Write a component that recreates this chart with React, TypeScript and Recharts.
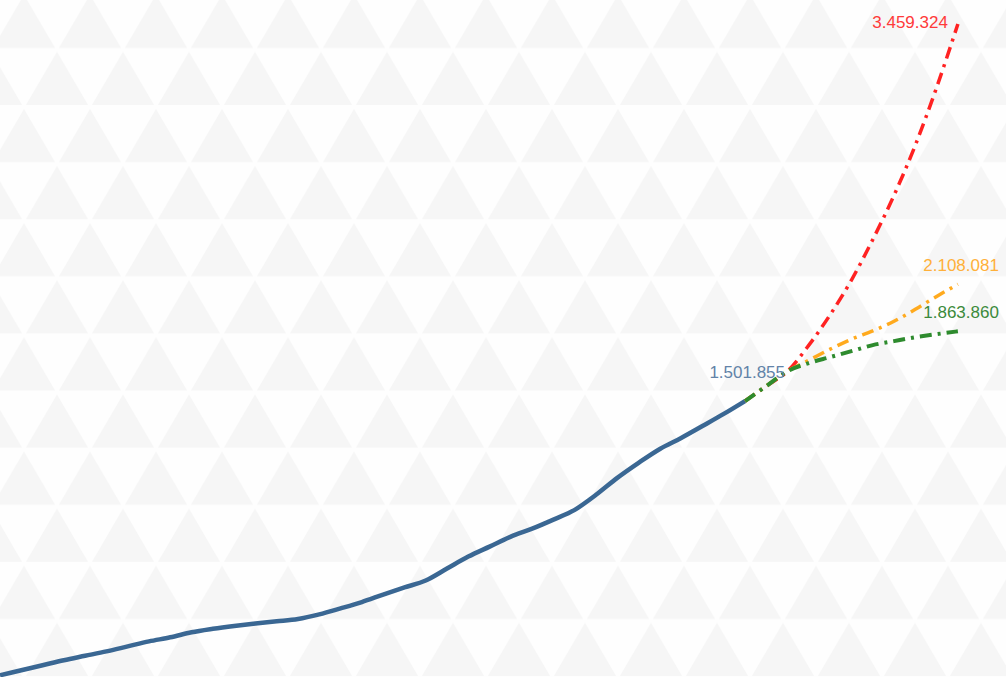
import React from 'react';
import { LineChart, Line, XAxis, YAxis } from 'recharts';

const blueYears = [1985,1986,1987,1988,1989,1990,1991,1992,1993,1994,1995,1996,1997,1998,1999,2000,2001,2002,2003,2004,2005,2006,2007,2008,2009,2010,2011,2012,2013,2014,2015,2016,2017,2018,2019,2020];
const blueValues = [78000,104000,130000,156000,179000,202000,228000,254000,275000,301000,319000,334000,347000,358000,370000,394000,425000,458000,497000,534000,570000,632000,694000,746000,798000,839000,886000,937000,1015000,1103000,1181000,1253000,1310000,1372000,1435000,1501855];

const projYears = [2020,2021,2022,2023,2024,2025,2026,2027,2028,2029,2030];
const redValues = [1501855,1579500,1657000,1792000,1950000,2130000,2340000,2570000,2830000,3130000,3459324];
const orangeValues = [1501855,1579500,1657000,1714000,1771000,1823000,1866000,1916000,1978000,2045000,2108081];
const greenValues = [1501855,1579500,1657000,1699000,1730000,1761000,1792000,1813000,1833000,1849000,1863860];

const allYears = [...blueYears, ...projYears.slice(1)];
const data = allYears.map((year) => {
  const bi = blueYears.indexOf(year);
  const pi = projYears.indexOf(year);
  return {
    year,
    blue: bi >= 0 ? blueValues[bi] : null,
    red: pi >= 0 ? redValues[pi] : null,
    orange: pi >= 0 ? orangeValues[pi] : null,
    green: pi >= 0 ? greenValues[pi] : null,
  };
});

const fmt = (v: number) => String(Math.round(v)).replace(/\B(?=(\d{3})+(?!\d))/g, '.');

const FONT = '"Liberation Sans", Arial, sans-serif';

const makeLabel = (lastIndex: number, color: string, dx: number, dy: number) => (props: any) => {
  const { x, y, index, value } = props;
  if (index !== lastIndex || value == null) return null;
  return (
    <text x={x + dx} y={y + dy} fill={color} fontSize={17} fontFamily={FONT} textAnchor="end">
      {fmt(Number(value))}
    </text>
  );
};

const W = 1006;
const H = 677;

function Background() {
  const ph = 57.1;
  const pw = 66;
  return (
    <svg width={W} height={H} style={{ position: 'absolute', left: 0, top: 0 }}>
      <defs>
        <pattern
          id="tri"
          width={pw}
          height={ph * 2}
          patternUnits="userSpaceOnUse"
          patternTransform="translate(57,-6.2)"
        >
          <rect width={pw} height={ph * 2} fill="#fefefe" />
          <polygon points={`${pw / 2},1 ${pw - 2},${ph - 3} 2,${ph - 3}`} fill="#f6f6f6" />
          <polygon points={`0,${ph + 1} ${pw / 2 - 2},${2 * ph - 3} ${-pw / 2 + 2},${2 * ph - 3}`} fill="#f6f6f6" />
          <polygon points={`${pw},${ph + 1} ${pw + pw / 2 - 2},${2 * ph - 3} ${pw / 2 + 2},${2 * ph - 3}`} fill="#f6f6f6" />
        </pattern>
      </defs>
      <rect width={W} height={H} fill="url(#tri)" />
    </svg>
  );
}

export default function App() {
  const projLast = data.length - 1;
  const blueLast = blueYears.length - 1;
  return (
    <div style={{ position: 'absolute', left: 0, top: 0, width: W, height: H, overflow: 'hidden', background: '#fefefe' }}>
      <Background />
      <div style={{ position: 'absolute', left: 0, top: 0 }}>
        <LineChart width={W} height={H} data={data} margin={{ top: 0, right: 0, bottom: 0, left: 0 }}>
          <XAxis dataKey="year" type="number" domain={[1985, 2032.26]} hide allowDataOverflow />
          <YAxis type="number" domain={[69000, 3584000]} hide allowDataOverflow />
          <Line
            dataKey="blue"
            type="monotone"
            stroke="#3a6793"
            strokeWidth={4.5}
            dot={false}
            activeDot={false}
            connectNulls={false}
            isAnimationActive={false}
            label={makeLabel(blueLast, '#6283a8', 40, -23)}
          />
          <Line
            dataKey="red"
            type="monotone"
            stroke="#ff2222"
            strokeWidth={3.5}
            strokeDasharray="12 6 3 6"
            dot={false}
            activeDot={false}
            isAnimationActive={false}
            label={makeLabel(projLast, '#ff3a3a', -10, 4)}
          />
          <Line
            dataKey="orange"
            type="monotone"
            stroke="#ffaa1e"
            strokeWidth={3.5}
            strokeDasharray="12 6 3 6"
            dot={false}
            activeDot={false}
            isAnimationActive={false}
            label={makeLabel(projLast, '#ffb03a', 41, -13)}
          />
          <Line
            dataKey="green"
            type="monotone"
            stroke="#2e8b2e"
            strokeWidth={4}
            strokeDasharray="12 6 3 6"
            dot={false}
            activeDot={false}
            isAnimationActive={false}
            label={makeLabel(projLast, '#3b8a3b', 41, -13)}
          />
        </LineChart>
      </div>
    </div>
  );
}
